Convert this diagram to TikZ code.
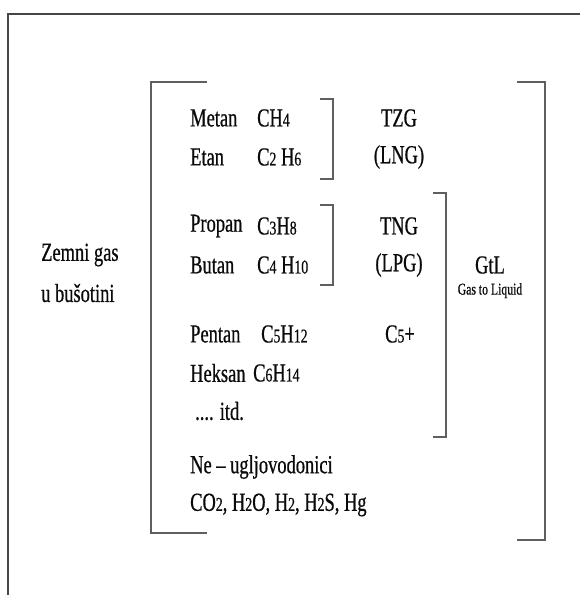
\documentclass[tikz,border=0pt]{standalone}
\usepackage{fontspec}
\setmainfont{Liberation Serif}[FakeStretch=0.71, FakeBold=0.6]
\usepackage{xcolor}
\usetikzlibrary{positioning}
\definecolor{Ink}{RGB}{10, 10, 10}
\definecolor{FrameDark}{RGB}{70, 70, 70}
\definecolor{BracketGrey}{RGB}{95, 95, 95}
\newcommand{\sm}[1]{{\fontsize{19.5}{19.5}\selectfont #1}}

\begin{document}
\begin{tikzpicture}[x=1pt, y=-1pt,
    txt/.style={anchor=west, inner sep=0pt, font=\fontsize{26}{26}\selectfont, text=Ink},
    tag/.style={anchor=center, inner sep=0pt, font=\fontsize{26}{26}\selectfont, text=Ink},
    note/.style={anchor=center, inner sep=0pt, font=\fontsize{16.5}{16.5}\selectfont, text=Ink},
    frame/.style={line width=1.4pt, FrameDark},
    brk/.style={line width=1.2pt, BracketGrey},
]
\useasboundingbox (0,0) rectangle (580,595);
\draw[frame] (8,600) -- (8,14) -- (585,14);

% left side
\node[txt] (zemni) at (41,255) {Zemni gas};
\node[txt] (busotini) at (41,293) {u bušotini};

% main bracket
\draw[brk] (207,82) -- (151,82) -- (151,533) -- (207,533);
\draw[brk] (517,82) -- (545,82) -- (545,540) -- (517,540);

% TZG group
\node[txt] (metan) at (190,118) {Metan};
\node[txt] (ch4) at (257,118) {CH\sm{4}};
\node[txt] (etan) at (190,157) {Etan};
\node[txt] (c2h6) at (257,157) {C\sm{2} H\sm{6}};
\draw[brk] (320,99) -- (333,99) -- (333,179) -- (320,179);
\node[tag] (tzg) at (399,118) {TZG};
\node[tag] (lng) at (399,157) {(LNG)};

% TNG group
\node[txt] (propan) at (190,226) {Propan};
\node[txt] (c3h8) at (257,226) {C\sm{3}H\sm{8}};
\node[txt] (butan) at (190,265) {Butan};
\node[txt] (c4h10) at (257,265) {C\sm{4} H\sm{10}};
\draw[brk] (320,205) -- (333,205) -- (333,285) -- (320,285);
\node[tag] (tng) at (399,226) {TNG};
\node[tag] (lpg) at (399,265) {(LPG)};

% C5+ group
\node[txt] (pentan) at (190,334) {Pentan};
\node[txt] (c5h12) at (261,334) {C\sm{5}H\sm{12}};
\node[txt] (heksan) at (190,373) {Heksan};
\node[txt] (c6h14) at (253,373) {C\sm{6}H\sm{14}};
\node[txt] (itd) at (195,411) {.... itd.};
\node[tag] (c5plus) at (400,334) {C\sm{5}+};
\draw[brk] (433,193) -- (446,193) -- (446,437) -- (433,437);

% GtL
\node[tag] (gtl) at (490,265) {GtL};
\node[note, below=9pt of gtl] (gastoliquid) {Gas to Liquid};

% non-hydrocarbons
\node[txt] (neugljo) at (190,467) {Ne -- ugljovodonici};
\node[txt] (ostalo) at (190,505) {CO\sm{2}, H\sm{2}O, H\sm{2}, H\sm{2}S, Hg};
\end{tikzpicture}
\end{document}
